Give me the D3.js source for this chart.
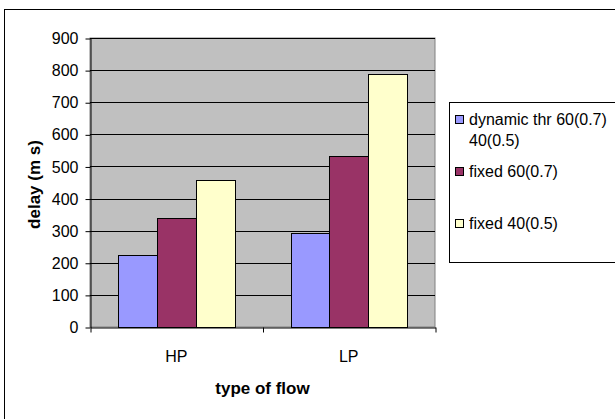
<!DOCTYPE html>
<html>
<head>
<meta charset="utf-8">
<script src="https://cdn.jsdelivr.net/npm/d3@7"></script>
<style>
  body { margin: 0; background: #fff; }
  svg { display: block; font-family: "Liberation Sans", Arial, sans-serif; }
</style>
</head>
<body>
<svg width="615" height="419"></svg>
<script>
const categories = ['HP', 'LP'];
const seriesNames = ['dynamic thr 60(0.7) 40(0.5)', 'fixed 60(0.7)', 'fixed 40(0.5)'];
const dynamicThr = [225, 292];
const fixed60 = [340, 534];
const fixed40 = [458, 787];
const yTicks = [0, 100, 200, 300, 400, 500, 600, 700, 800, 900];

const series = [dynamicThr, fixed60, fixed40];
const colors = ['#9999ff', '#993366', '#ffffcc'];

const plot = { left: 90, top: 38, right: 435, bottom: 327 };

const svg = d3.select('svg');

// outer chart frame (runs off the right/bottom edge)
svg.append('rect')
    .attr('x', 4.5).attr('y', 9.5)
    .attr('width', 640).attr('height', 440)
    .attr('fill', '#fff').attr('stroke', '#000');

const x = d3.scaleBand().domain(categories).range([plot.left, plot.right]);
const xInner = d3.scaleBand().domain(d3.range(series.length))
    .range([0, x.bandwidth()]).paddingInner(0).paddingOuter(0.73);
const y = d3.scaleLinear().domain([0, 900]).range([plot.bottom, plot.top]);

svg.append('rect')
    .attr('x', plot.left).attr('y', plot.top)
    .attr('width', plot.right - plot.left).attr('height', plot.bottom - plot.top)
    .attr('fill', '#c0c0c0').attr('stroke', '#808080');

// gridlines
svg.append('g')
  .selectAll('line')
  .data(yTicks.filter(d => d > 0))
  .enter()
  .append('line')
    .attr('x1', plot.left).attr('x2', plot.right)
    .attr('y1', d => Math.round(y(d)) + 0.5).attr('y2', d => Math.round(y(d)) + 0.5)
    .attr('stroke', '#000');

// bars
categories.forEach((c, ci) => {
  svg.append('g')
    .selectAll('rect')
    .data(series.map((s, si) => ({ si, v: s[ci] })))
    .enter()
    .append('rect')
      .attr('x', d => Math.round(x(c) + xInner(d.si)) + 0.5)
      .attr('y', d => Math.round(y(d.v)) + 0.5)
      .attr('width', Math.round(xInner.bandwidth()))
      .attr('height', d => Math.round(y(0)) - Math.round(y(d.v)))
      .attr('fill', d => colors[d.si])
      .attr('stroke', '#000');
});

// y axis
const yAxis = svg.append('g')
    .attr('transform', `translate(${plot.left + 0.5},0.5)`)
    .call(d3.axisLeft(y).tickValues(yTicks).tickSize(5).tickPadding(7).tickSizeOuter(0));
yAxis.select('.domain').attr('stroke', '#000');
yAxis.selectAll('text').attr('font-size', 16).attr('fill', '#000')
    .attr('font-family', '"Liberation Sans", Arial, sans-serif');

// x axis
const xAxis = svg.append('g')
    .attr('transform', `translate(0.5,${plot.bottom + 0.5})`)
    .call(d3.axisBottom(d3.scaleLinear().domain([0, 2]).range([plot.left, plot.right]))
      .tickValues([0, 1, 2]).tickSize(5).tickFormat('').tickSizeOuter(0));
xAxis.select('.domain').attr('stroke', '#000');

svg.append('g')
  .selectAll('text')
  .data(categories)
  .enter()
  .append('text')
    .attr('x', d => x(d) + x.bandwidth() / 2)
    .attr('y', 362)
    .attr('text-anchor', 'middle')
    .attr('font-size', 16)
    .text(d => d);

svg.append('text')
    .attr('x', (plot.left + plot.right) / 2)
    .attr('y', 394)
    .attr('text-anchor', 'middle')
    .attr('font-size', 17)
    .attr('font-weight', 'bold')
    .text('type of flow');

svg.append('text')
    .attr('transform', `translate(40,${(plot.top + plot.bottom) / 2 + 2}) rotate(-90)`)
    .attr('text-anchor', 'middle')
    .attr('font-size', 17)
    .attr('font-weight', 'bold')
    .text('delay (m s)');

// legend
const legend = svg.append('g');
legend.append('rect')
    .attr('x', 449.5).attr('y', 102.5)
    .attr('width', 200).attr('height', 160)
    .attr('fill', '#fff').attr('stroke', '#000');

const legendRows = [
  { lines: ['dynamic thr 60(0.7)', '40(0.5)'], y: 125 },
  { lines: ['fixed 60(0.7)'], y: 177 },
  { lines: ['fixed 40(0.5)'], y: 229 }
];
legendRows.forEach((r, i) => {
  legend.append('rect')
      .attr('x', 455.5).attr('y', r.y - 9.5)
      .attr('width', 8).attr('height', 8)
      .attr('fill', colors[i]).attr('stroke', '#000');
  r.lines.forEach((t, j) => {
    legend.append('text')
        .attr('x', 469).attr('y', r.y + j * 21)
        .attr('font-size', 16)
        .text(t);
  });
});
</script>
</body>
</html>
